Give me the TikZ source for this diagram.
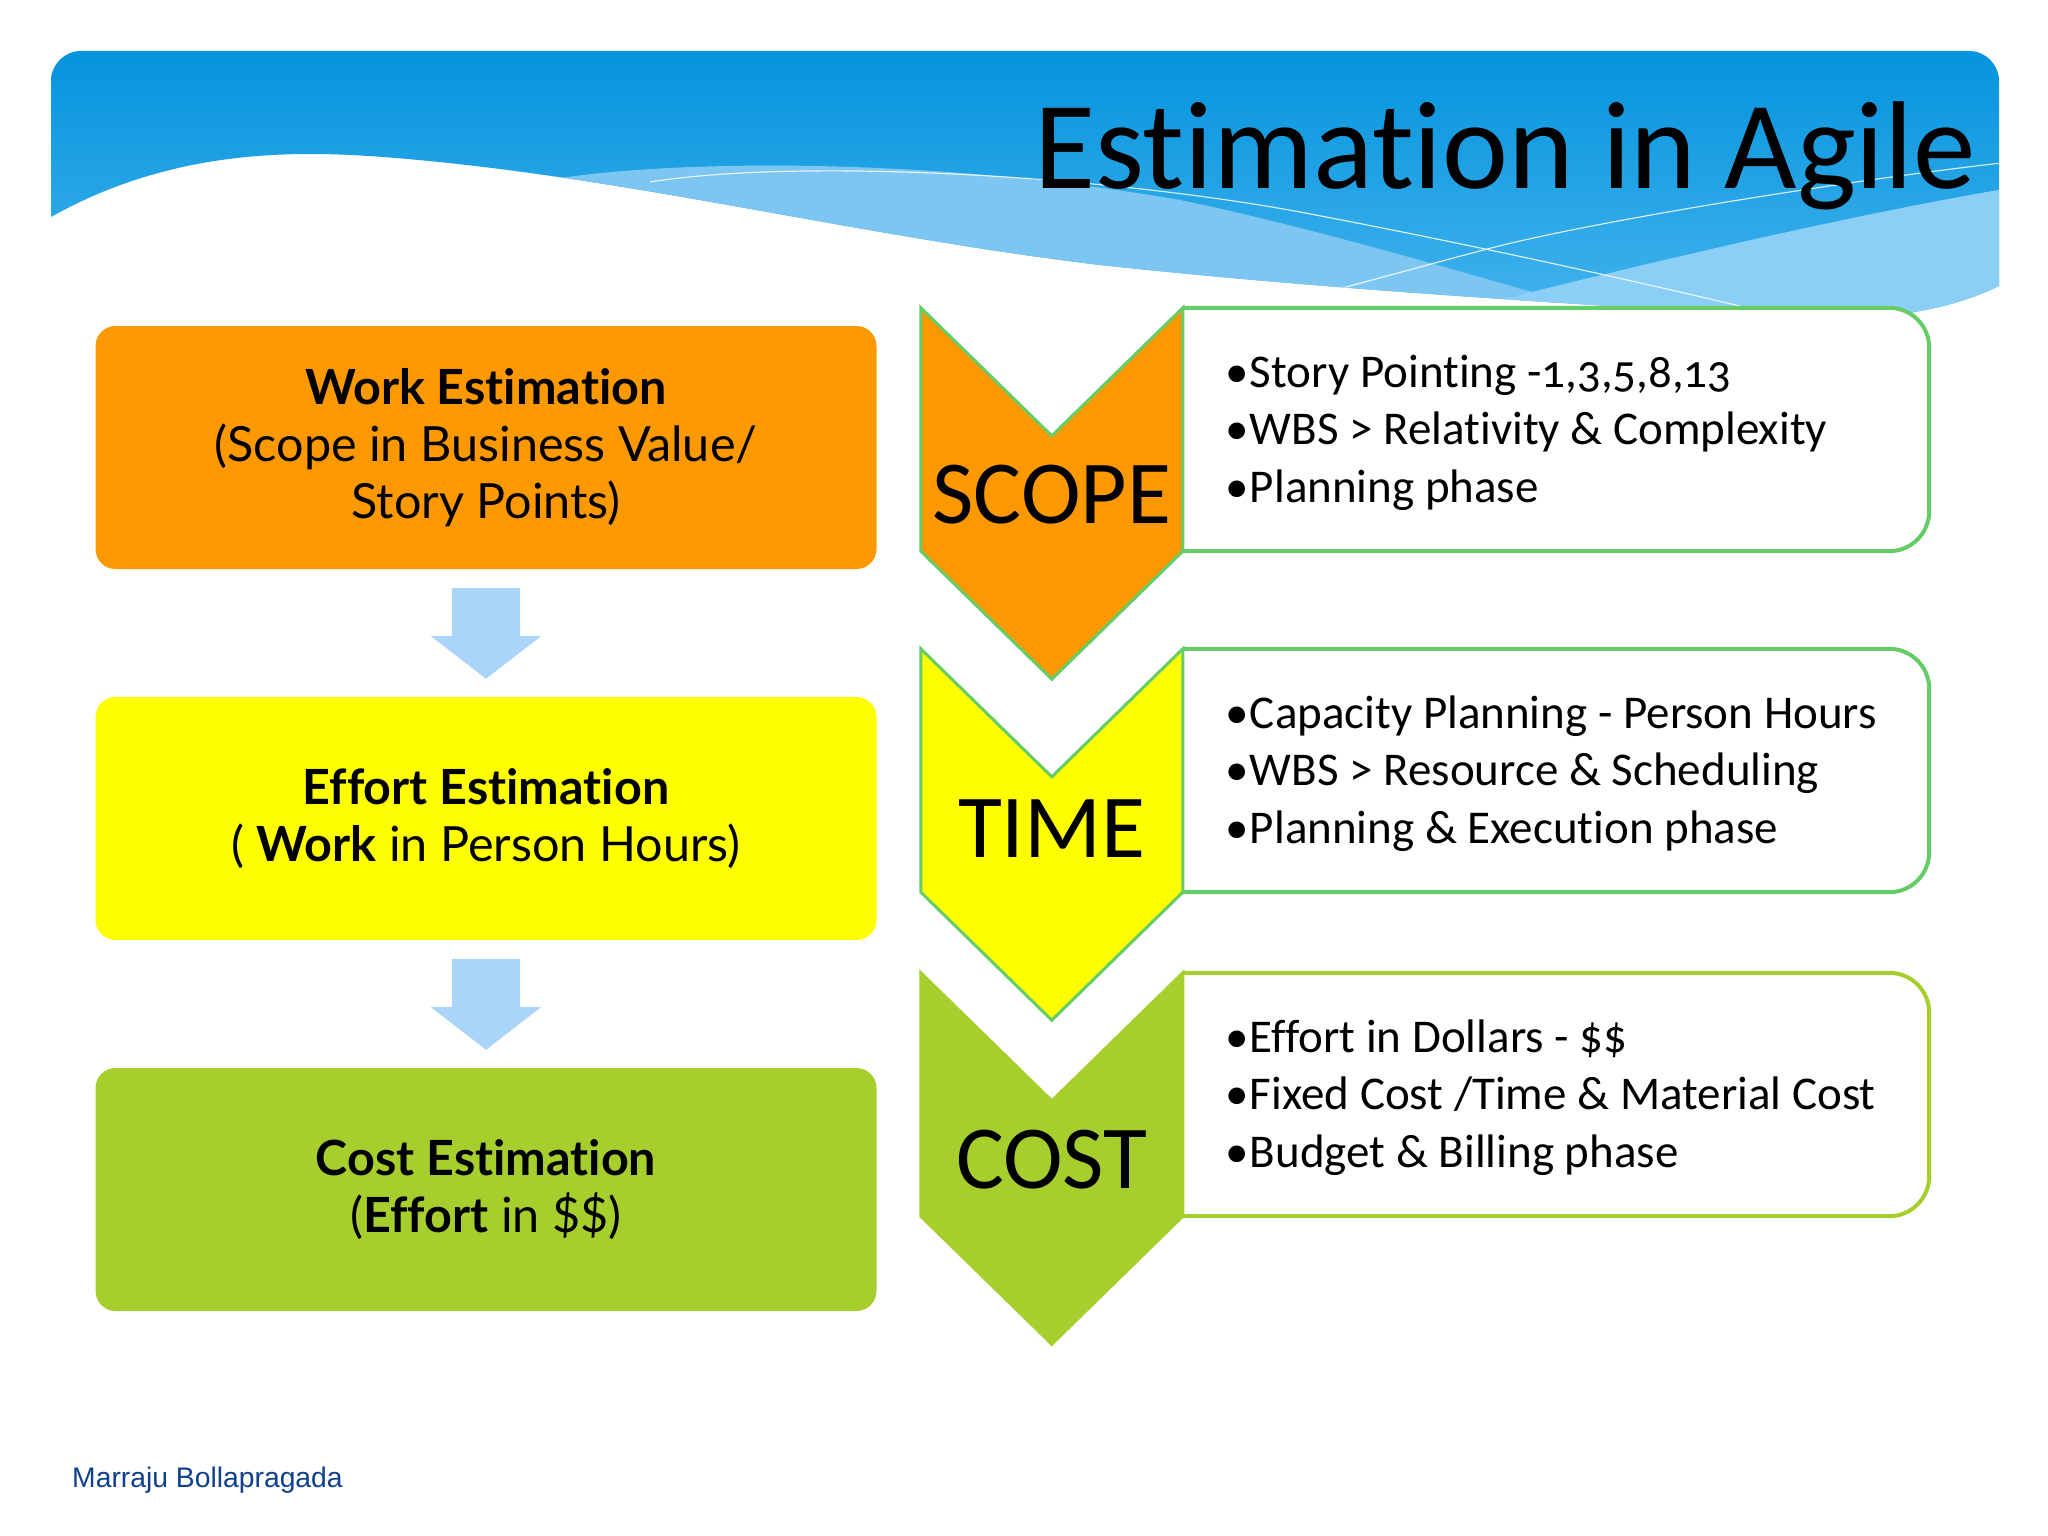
\documentclass[tikz,border=0pt]{standalone}
\usepackage{fontspec}
\setmainfont{Carlito}[Ligatures=NoCommon]
\newfontfamily\bulletfont{Carlito}[Ligatures=NoCommon, Numbers=OldStyle]
\newfontfamily\leftfont{Lato}[Ligatures=NoCommon]
\newfontfamily\authorfont{Liberation Sans}
\usetikzlibrary{calc}

\definecolor{bandtop}{RGB}{2,146,221}
\definecolor{bandlow}{RGB}{72,182,238}
\definecolor{wavelight}{RGB}{125,198,242}
\definecolor{wavepale}{RGB}{140,207,246}
\definecolor{workorange}{RGB}{253,153,0}
\definecolor{effortyellow}{RGB}{254,254,0}
\definecolor{costgreen}{RGB}{166,206,44}
\definecolor{edgegreen}{RGB}{102,204,102}
\definecolor{arrowblue}{RGB}{170,212,250}
\definecolor{authorblue}{RGB}{16,64,140}

\newcommand{\bulletitem}{\makebox[25pt][l]{•}}

\begin{document}
\begin{tikzpicture}[x=1pt,y=1pt,yscale=-1,xscale=1,
    estbox/.style={rounded corners=20pt, minimum width=781pt, minimum height=243pt, inner sep=0pt, align=center, font=\leftfont\fontsize{48.5}{57}\selectfont},
    detailbox/.style={minimum width=746pt, minimum height=243pt, inner sep=0pt},
    bullettext/.style={anchor=west, inner sep=0pt, align=left, font=\bulletfont\fontsize{47}{57.5}\selectfont},
    chevlabel/.style={inner sep=0pt, font=\fontsize{90}{90}\selectfont},
    flowarrow/.style={fill=arrowblue},
    boxedge/.style={line width=4pt, fill=white},
  ]
    \useasboundingbox (0,0) rectangle (2048,1536);

    %Shape: header band with waves
    \begin{scope}
      \clip (51,217) [rounded corners=30pt] -- (51,51) -- (1999,51) -- (1999,240) [sharp corners] -- (1999,286) .. controls (1960,305) and (1900,322) .. (1800,318) .. controls (1600,305) and (1350,292) .. (1100,265) .. controls (850,235) and (620,175) .. (383,157) .. controls (290,150) and (170,150) .. (51,217) -- cycle;
      \shade[top color=bandtop, bottom color=bandlow] (40,40) rectangle (2010,340);
      \fill[wavelight] (560,178) .. controls (700,158) and (950,160) .. (1180,200) .. controls (1300,225) and (1420,260) .. (1560,300) -- (1560,340) -- (560,340) -- cycle;
      \fill[wavepale] (1460,310) .. controls (1650,262) and (1850,215) .. (2010,188) -- (2010,340) -- (1460,340) -- cycle;
      \draw[white, line width=1.2pt, opacity=0.8] (650,182) .. controls (800,158) and (1100,175) .. (1300,212) .. controls (1500,250) and (1650,285) .. (1740,306);
      \draw[white, line width=1.2pt, opacity=0.8] (2010,162) .. controls (1850,180) and (1600,220) .. (1491,248) .. controls (1400,272) and (1320,295) .. (1270,306);
    \end{scope}

    % Text Node
    \node[anchor=base east, inner sep=0pt, font=\fontsize{125}{125}\selectfont] (title) at (1976,189) {Estimation in Agile};

    %Shape: estimation boxes
    \node[estbox, fill=workorange] (work) at (486,447.5) {\textbf{Work Estimation}\\(Scope in Business Value/\\Story Points)};
    \node[estbox, fill=effortyellow] (effort) at (486,818.5) {\textbf{Effort Estimation}\\( \textbf{Work} in Person Hours)};
    \node[estbox, fill=costgreen] (cost) at (486,1189.5) {\textbf{Cost Estimation}\\(\textbf{Effort} in \$\$)};

    %Shape: block arrows between boxes
    \foreach \from/\to in {work/effort, effort/cost}
      \fill[flowarrow] ($(\from.south)+(-34,19)$) -- ($(\from.south)+(34,19)$) -- ($(\from.south)+(34,67)$) -- ($(\from.south)+(55,67)$) -- ($(\to.north)+(0,-18)$) -- ($(\from.south)+(-55,67)$) -- ($(\from.south)+(-34,67)$) -- cycle;

    %Shape: detail boxes
    \node[detailbox] (scopebox) at (1556,429.5) {};
    \node[detailbox] (timebox) at (1556,770.5) {};
    \node[detailbox] (costbox) at (1556,1094.5) {};
    \foreach \b/\c in {scopebox/edgegreen, timebox/edgegreen, costbox/costgreen}
      \draw[boxedge, draw=\c] (\b.north west) -- ($(\b.north east)+(-40,0)$) arc[start angle=-90, end angle=0, radius=40] -- ($(\b.south east)+(0,-40)$) arc[start angle=0, end angle=90, radius=40] -- (\b.south west);

    % Text Node
    \node[bullettext] (scopelist) at ($(scopebox.west)+(42,3)$) {\bulletitem Story Pointing -1,3,5,8,13\\\bulletitem WBS > Relativity \& Complexity\\\bulletitem Planning phase};
    \node[bullettext] (timelist) at ($(timebox.west)+(42,3)$) {\bulletitem Capacity Planning - Person Hours\\\bulletitem WBS > Resource \& Scheduling\\\bulletitem Planning \& Execution phase};
    \node[bullettext] (costlist) at ($(costbox.west)+(42,3)$) {\bulletitem Effort in Dollars - \$\$\\\bulletitem Fixed Cost /Time \& Material Cost\\\bulletitem Budget \& Billing phase};

    %Shape: chevrons
    \foreach \b/\f/\c in {scopebox/workorange/edgegreen, timebox/effortyellow/edgegreen, costbox/costgreen/costgreen}
      \draw[draw=\c, fill=\f, line width=3pt] ($(\b.north west)+(-262,0)$) -- ($(\b.north west)+(-131,128)$) -- (\b.north west) -- (\b.south west) -- ($(\b.south west)+(-131,128)$) -- ($(\b.south west)+(-262,0)$) -- cycle;

    % Text Node
    \node[chevlabel] (scope) at ($(scopebox.north west)+(-131,187)$) {SCOPE};
    \node[chevlabel] (time) at ($(timebox.north west)+(-131,180)$) {TIME};
    \node[chevlabel] (costlabel) at ($(costbox.north west)+(-131,187)$) {COST};

    % Text Node
    \node[anchor=base west, inner sep=0pt, text=authorblue, font=\authorfont\fontsize{28.3}{28.3}\selectfont] (author) at (72,1487) {Marraju Bollapragada};
\end{tikzpicture}
\end{document}
